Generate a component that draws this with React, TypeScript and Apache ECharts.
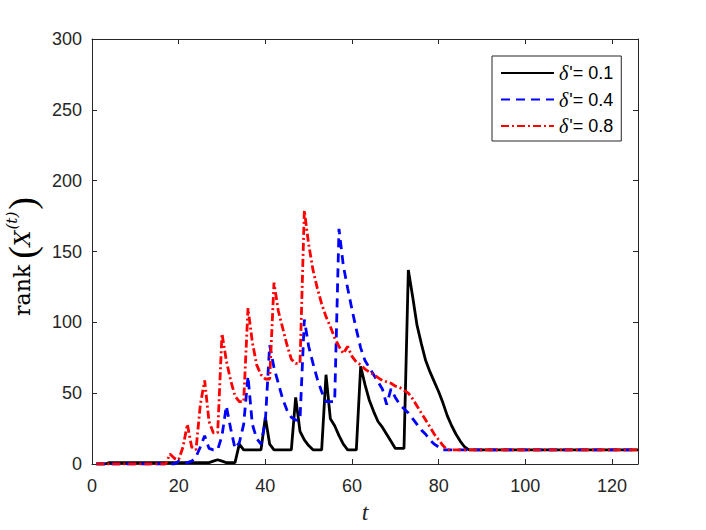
import React, { useEffect, useRef } from "react";
import * as echarts from "echarts";

// rank values for t = 1 .. 126
const BLACK = [
  0, 0, 0,
  1, 1, 1, 1, 1, 1, 1, 1, 1, 1, 1, 1, 1, 1, 1, 1, 1, 1, 1, 1, 1, 1, 1, 1,
  2, 3, 2, 1, 1, 1,
  14, 10, 10, 10, 10, 10,
  33, 14, 10, 10, 10, 10, 10,
  47, 23, 17, 13, 10, 10, 10,
  63, 32, 27, 20, 14, 10, 10, 10,
  69, 56, 45, 37, 30, 26, 21, 16, 11, 11, 11,
  137, 118, 98, 85, 73, 65, 58, 51, 43, 34, 27, 21, 16, 12, 10,
  10, 10, 10, 10, 10, 10, 10, 10, 10, 10, 10, 10, 10, 10, 10, 10, 10, 10, 10, 10,
  10, 10, 10, 10, 10, 10, 10, 10, 10, 10, 10, 10, 10, 10, 10, 10, 10, 10, 10,
];

const BLUE = [
  0, 0, 0, 0, 0, 0, 0, 0, 0, 0, 0, 0, 0, 0, 0, 0, 0, 0, 0,
  2, 1, 1, 2, 5,
  12, 20, 11, 10, 10,
  20, 41, 25, 11, 15,
  28, 62, 28, 18, 14, 30,
  84, 68, 57, 46, 38, 33, 31, 31,
  102, 83, 71, 60, 51, 44, 44, 44,
  166, 140, 124, 109, 95, 82, 73, 68, 63, 58, 53, 42,
  53, 47, 42, 39, 36, 32, 28, 24, 21, 17, 14, 12, 10,
  10, 10, 10, 10, 10, 10, 10, 10, 10, 10, 10, 10, 10, 10, 10, 10, 10, 10, 10, 10,
  10, 10, 10, 10, 10, 10, 10, 10, 10, 10, 10, 10, 10, 10, 10, 10, 10, 10, 10, 10,
  10, 10, 10, 10, 10,
];

const RED = [
  0, 0, 0, 0, 0, 0, 0, 0, 0, 0, 0, 0, 0, 0, 0, 0, 0,
  7, 4, 3, 12, 28, 12, 10,
  42, 59, 30, 22, 22,
  92, 73, 59, 48, 44, 44,
  110, 86, 70, 63, 60, 60,
  128, 108, 96, 84, 74, 71, 71,
  179, 155, 137, 124, 113, 104, 97, 89, 83, 78,
  83, 76, 72, 70, 67, 65, 63, 61, 59, 58, 57, 55, 54, 52,
  50, 46, 41, 36, 31, 26, 21, 17, 13, 10,
  10, 10, 10, 10, 10, 10, 10, 10, 10, 10, 10, 10, 10, 10, 10, 10, 10, 10, 10, 10,
  10, 10, 10, 10, 10, 10, 10, 10, 10, 10, 10, 10, 10, 10, 10, 10, 10, 10, 10, 10,
  10, 10, 10, 10,
];

const SERIES_NAMES = ["δ'= 0.1", "δ'= 0.4", "δ'= 0.8"];
const X_MIN = 0;
const X_MAX = 126;
const X_STEP = 20;
const Y_MIN = 0;
const Y_MAX = 300;
const Y_STEP = 50;

export default function App() {
  const ref = useRef<HTMLDivElement>(null);

  useEffect(() => {
    if (!ref.current) return;
    const chart = echarts.init(ref.current, null, { renderer: "svg" });
    const axisColor = "#262626";
    const sans = "'Liberation Sans', Arial, Helvetica, sans-serif";
    const serif = "'Liberation Serif', 'Times New Roman', serif";
    const mathSerif = "'DejaVu Serif', 'Liberation Serif', serif";
    const pairs = (arr: number[]) => arr.map((v, i) => [i + 1, v]);

    const axisLine = { show: true, onZero: false, lineStyle: { color: axisColor, width: 1 } };
    const axisTick = { show: true, inside: true, length: 5, lineStyle: { color: axisColor, width: 1 } };

    chart.setOption({
      animation: false,
      backgroundColor: "#ffffff",
      grid: { left: 92, right: 68, top: 39, bottom: 66, containLabel: false, outerBoundsMode: "none" },
      legend: {
        orient: "vertical",
        left: 492,
        top: 56,
        padding: [7, 8, 5, 8],
        itemWidth: 53,
        itemHeight: 14,
        itemGap: 6.5,
        borderColor: axisColor,
        borderWidth: 1,
        backgroundColor: "#ffffff",
        itemStyle: { opacity: 0, borderWidth: 0 },
        data: SERIES_NAMES,
        formatter: (name: string) => `{d|δ}{q|'}{n|${name.slice(2)}}`,
        textStyle: {
          color: "#000",
          fontSize: 18,
          fontFamily: sans,
          rich: {
            d: { fontFamily: serif, fontStyle: "italic", fontSize: 20, lineHeight: 21, color: "#000" },
            q: { fontFamily: sans, fontSize: 18, lineHeight: 21, color: "#000", padding: [0, 0, 0, 1] },
            n: { fontFamily: sans, fontSize: 18, lineHeight: 21, color: "#000" },
          },
        },
      },
      xAxis: [
        {
          type: "value",
          position: "bottom",
          min: X_MIN,
          max: X_MAX,
          interval: X_STEP,
          axisLine,
          axisTick,
          splitLine: { show: false },
          axisLabel: {
            color: axisColor,
            fontSize: 18,
            fontFamily: sans,
            margin: 13,
            showMaxLabel: false,
          },
          name: "t",
          nameLocation: "middle",
          nameGap: 36,
          nameTextStyle: {
            fontFamily: serif,
            fontStyle: "italic",
            fontSize: 24,
            color: axisColor,
          },
        },
        {
          type: "value",
          position: "top",
          min: X_MIN,
          max: X_MAX,
          interval: X_STEP,
          axisLine,
          axisTick,
          splitLine: { show: false },
          axisLabel: { show: false },
        },
      ],
      yAxis: [
        {
          type: "value",
          position: "left",
          min: Y_MIN,
          max: Y_MAX,
          interval: Y_STEP,
          axisLine,
          axisTick,
          splitLine: { show: false },
          axisLabel: { color: axisColor, fontSize: 18, fontFamily: sans, margin: 10 },
          name: "{r|rank}{p|(}{x|X}{s|(t)}{c|)}",
          nameLocation: "middle",
          nameRotate: 90,
          nameGap: 44,
          nameTextStyle: {
            color: "#000",
            rich: {
              r: { fontFamily: mathSerif, fontSize: 22, color: "#000", lineHeight: 44, verticalAlign: "middle", padding: [0, 6, 0, 0] },
              p: { fontFamily: serif, fontSize: 38, color: "#000", lineHeight: 44, verticalAlign: "middle" },
              c: { fontFamily: serif, fontSize: 38, color: "#000", lineHeight: 44, verticalAlign: "middle", padding: [0, 10, 0, 0] },
              x: { fontFamily: mathSerif, fontStyle: "italic", fontSize: 22, color: "#000", lineHeight: 44, verticalAlign: "middle", padding: [0, 1, 0, 0] },
              s: { fontFamily: mathSerif, fontStyle: "italic", fontSize: 15, color: "#000", lineHeight: 16, verticalAlign: "top", padding: [4, 2, 0, 0] },
            },
          },
        },
        {
          type: "value",
          position: "right",
          min: Y_MIN,
          max: Y_MAX,
          interval: Y_STEP,
          axisLine,
          axisTick,
          splitLine: { show: false },
          axisLabel: { show: false },
        },
      ],
      series: [
        {
          name: SERIES_NAMES[0],
          type: "line",
          data: pairs(BLACK),
          symbol: "none",
          color: "#000000",
          lineStyle: { color: "#000000", width: 2.8, type: "solid" },
        },
        {
          name: SERIES_NAMES[1],
          type: "line",
          data: pairs(BLUE),
          symbol: "none",
          color: "#0000ff",
          lineStyle: { color: "#0000ff", width: 2.8, type: [9, 6] },
        },
        {
          name: SERIES_NAMES[2],
          type: "line",
          data: pairs(RED),
          symbol: "none",
          color: "#ff0000",
          lineStyle: { color: "#ff0000", width: 2.8, type: [8, 3, 2, 3] },
        },
      ],
    });

    return () => chart.dispose();
  }, []);

  return (
    <div
      ref={ref}
      style={{ position: "fixed", left: 0, top: 0, width: 706, height: 530, background: "#fff" }}
    />
  );
}
